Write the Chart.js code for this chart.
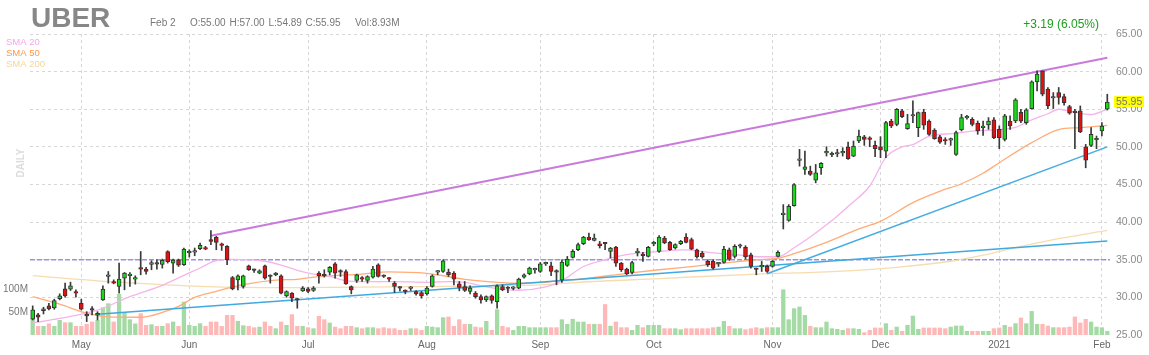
<!DOCTYPE html>
<html><head><meta charset="utf-8">
<script src="https://cdn.jsdelivr.net/npm/chart.js@4.4.1/dist/chart.umd.min.js"></script>
<style>html,body{margin:0;padding:0;background:#fff}#wrap{width:1149px;height:355px;position:relative}</style>
</head><body><div id="wrap"><canvas id="c"></canvas></div>
<script>
const ticker = 'UBER';
const holidays = ['2020-05-25','2020-07-03','2020-09-07','2020-11-26','2020-12-25','2021-01-01','2021-01-18'];
const firstDay = '2020-04-20', lastDay = '2021-02-02';
const monthTickLabels = ['May','Jun','Jul','Aug','Sep','Oct','Nov','Dec','2021','Feb'];
const priceMin = 25, priceMax = 65, priceStep = 5;
const volumeTicks = [50, 100];
const hLineLevel = 35;

const open = [
27.09,27.67,28.24,28.87,28.6,29.84,31.13,31.09,30.73,29.22,
27.6,28.35,27.62,29.67,32.78,32.11,31.44,32.56,32.9,32.42,
33.8,33.76,34.38,34.56,34.38,36.07,34.56,35.0,34.33,35.93,
36.02,36.47,36.45,37.67,37.98,36.95,36.78,32.64,32.33,31.44,
34.2,33.6,33.22,34.2,32.8,33.0,32.87,30.2,30.56,29.7,
30.87,31.13,30.91,33.22,32.9,33.36,34.47,33.4,33.44,31.44,
32.24,32.45,32.24,32.69,34.33,32.8,32.5,31.89,31.25,30.8,
31.2,30.78,30.64,30.47,31.44,33.35,33.44,33.36,33.22,31.8,
31.44,30.78,30.56,30.11,29.67,30.2,29.44,31.44,31.2,31.2,
31.22,32.69,33.13,33.65,33.44,34.45,34.2,33.4,32.3,34.24,
35.31,36.33,37.13,38.02,37.58,37.13,37.15,36.11,36.69,34.56,
33.76,33.31,35.95,35.7,35.44,37.09,36.11,37.89,37.31,36.56,
37.13,38.02,37.67,36.33,35.89,34.78,34.78,34.45,34.64,36.33,
35.44,36.8,36.64,35.67,33.75,34.05,34.11,34.11,35.44,41.0,
40.24,42.2,48.2,47.0,46.78,45.58,47.22,49.2,48.95,49.05,
49.2,50.02,48.78,50.78,51.35,51.02,50.2,50.02,49.44,53.44,
53.0,54.78,52.42,54.1,52.56,54.64,53.44,52.24,51.35,50.8,
50.9,49.0,52.24,53.85,53.67,53.13,52.55,52.91,53.58,52.33,
51.0,53.44,53.44,54.6,53.22,55.09,58.64,60.11,57.67,56.5,
57.22,56.69,55.36,54.6,54.78,50.02,50.2,50.95,52.11,55.0];
const high = [
28.87,27.89,28.69,29.22,29.76,30.47,31.89,32.02,31.0,29.76,
28.1,28.78,28.1,31.53,33.44,32.33,34.56,33.31,33.31,32.87,
36.1,33.98,34.87,35.0,35.09,36.2,35.09,35.09,36.56,36.33,
36.56,37.22,36.78,38.87,38.11,37.22,36.87,32.78,33.0,32.96,
34.29,33.76,33.67,34.29,33.0,33.31,33.0,30.87,30.64,29.89,
31.44,31.31,31.44,33.44,33.67,34.11,34.64,33.67,33.67,31.53,
33.09,32.78,32.87,34.11,34.47,33.0,32.64,32.11,31.44,31.0,
31.44,30.91,30.78,31.44,33.0,33.58,35.0,33.76,33.44,32.11,
32.11,31.53,30.78,30.33,30.2,30.33,31.67,31.67,31.44,31.44,
32.56,33.13,34.02,33.89,34.64,34.69,34.69,33.67,35.0,35.44,
36.33,37.22,38.11,38.56,38.42,37.44,37.31,36.64,36.78,34.64,
33.89,34.78,36.5,35.98,36.78,37.44,38.2,38.11,37.44,37.13,
37.58,38.47,37.89,36.42,36.11,35.0,35.0,34.64,36.78,36.56,
37.0,37.09,36.87,35.89,33.9,34.78,34.3,34.9,36.2,42.33,
42.33,45.13,49.67,49.44,47.44,47.67,47.9,50.02,49.31,49.67,
49.89,50.64,50.78,52.24,51.53,51.35,50.78,51.35,53.4,53.67,
55.1,55.0,54.33,56.11,54.64,55.0,53.58,52.42,51.53,51.22,
51.18,52.11,54.33,54.2,53.89,53.44,53.44,53.89,53.89,52.78,
54.33,54.11,56.42,55.0,55.09,58.78,60.11,60.11,57.89,57.22,
57.89,57.0,55.53,55.0,55.44,50.33,52.56,51.44,53.22,57.0];
const low = [
27.0,26.78,27.8,28.33,28.42,29.67,30.02,30.91,30.02,28.33,
26.78,27.67,27.0,29.58,31.89,31.8,30.56,31.0,31.44,31.76,
33.0,33.09,33.67,33.76,33.89,34.56,33.22,34.11,34.24,35.36,
35.53,36.33,36.33,37.0,36.33,36.24,34.33,31.0,31.0,31.22,
33.58,33.31,33.13,32.42,31.89,32.87,30.47,30.02,29.44,28.56,
30.78,30.64,30.78,31.89,32.69,33.0,32.56,32.78,31.71,30.47,
31.98,32.11,31.89,32.56,32.69,32.64,32.11,30.64,30.87,30.47,
30.91,30.29,29.89,30.29,31.36,33.0,33.31,32.78,31.67,30.87,
30.78,30.47,29.89,29.22,29.44,29.22,28.56,30.87,30.64,31.0,
31.13,32.56,33.0,33.22,33.31,34.24,32.87,31.67,32.0,34.11,
35.22,36.2,37.0,37.58,37.49,36.56,36.33,35.22,34.11,33.44,
33.0,33.13,35.5,34.78,35.36,36.87,35.98,37.13,36.24,36.42,
37.0,37.22,36.33,35.22,35.22,34.11,33.76,34.11,34.56,34.91,
35.22,36.56,35.09,33.89,33.0,33.44,33.3,34.0,35.36,39.09,
40.11,42.11,47.44,46.33,46.2,45.22,46.33,48.78,48.69,48.69,
48.78,48.33,48.69,50.56,50.2,50.02,48.69,48.56,48.56,52.56,
52.8,53.89,52.33,53.22,51.35,52.33,51.53,51.0,50.47,50.33,
50.2,48.87,52.11,53.67,52.78,51.67,51.53,52.33,51.09,49.76,
50.78,52.33,53.22,53.22,53.0,55.0,57.44,56.78,55.09,55.09,
55.67,55.53,54.33,49.76,51.89,47.22,50.02,49.76,51.44,54.89];
const close = [
28.33,27.36,28.47,28.47,29.58,30.2,30.2,31.53,30.56,28.42,
27.55,28.3,27.89,31.09,33.0,31.89,32.42,33.22,33.0,32.56,
33.76,33.44,34.64,34.42,34.91,34.73,34.96,34.29,36.42,36.0,
36.2,36.91,36.42,37.44,37.31,36.91,35.0,31.13,32.87,32.87,
33.67,33.58,33.53,32.56,32.78,33.22,30.56,30.78,29.89,29.65,
31.22,30.78,31.22,32.87,32.85,33.98,33.22,33.36,31.8,31.0,
33.0,32.42,32.78,33.76,32.78,32.78,32.42,31.44,31.22,30.78,
31.22,30.47,30.2,31.22,32.87,33.36,34.87,33.0,32.42,31.31,
30.91,31.22,30.11,29.67,30.11,29.58,31.53,31.0,31.18,31.22,
32.42,33.0,33.89,33.67,34.47,34.47,33.44,33.36,34.7,35.09,
36.11,37.0,38.02,37.67,37.89,36.87,37.13,36.56,34.56,33.67,
33.13,34.64,35.98,35.55,36.64,37.31,38.02,37.22,36.33,37.0,
37.44,37.31,36.42,35.36,35.36,34.33,33.89,34.47,36.42,35.09,
36.78,36.87,35.36,34.11,33.7,34.11,33.44,34.78,35.98,41.13,
42.11,45.0,48.24,47.36,46.33,46.56,47.8,49.22,48.96,49.13,
49.27,48.42,50.11,51.44,51.0,51.0,49.76,49.58,53.22,52.78,
55.0,54.02,53.09,54.11,54.56,52.87,51.67,51.09,50.64,50.78,
50.91,51.89,53.89,53.89,53.0,52.11,52.56,53.44,51.22,51.22,
54.11,52.78,56.24,53.4,54.91,58.64,59.67,57.0,55.44,56.56,
56.56,55.89,54.47,54.56,51.98,48.24,51.67,51.09,52.76,55.95];
// volume in millions of shares
const volume = [
35,19.6,19.6,25,19.6,32.6,27.5,27.5,19.6,19.6,
24,29,32.6,60,68.8,29,89,48.6,34,25,
47,21.7,23.2,19.6,19.6,25.4,29,19.6,72.5,21.7,
19.6,25.4,19.6,29,29,19.6,43.5,43.5,30.4,21,
19.6,16.7,18,29,19.6,14.5,29,21.7,45,19.6,
19.6,16.7,14.5,41.3,34,26.8,18,14.5,19.6,19.6,
16.7,14.5,16.7,16.7,14.5,16.7,14.5,14.5,10.9,10.9,
14.5,14.5,10.9,19.6,18.1,16.7,38.4,39.9,19.6,34,
23.9,23.9,18.1,16.7,30.4,10.9,55.8,19.6,16.7,10.9,
19.6,19.6,16.7,16.7,16.7,16.7,16.7,16.7,34,24,
35,29,29,24,24,24,67,20,29,16.7,
16.7,10.9,21.7,16.7,21.7,21.7,21.7,14.5,14.5,14.5,
12.3,14.5,14.5,14.5,14.5,14.5,16.7,18,30.4,19.6,
14.5,14.5,12.3,14.5,16.7,14.5,16.7,16.7,16.7,99,
34,58,61.6,43.5,19.6,16.7,16.7,29,14.5,13,
10.9,14.5,14.5,13,5.8,10.9,16,16,25.4,10.9,
18,8.7,21.7,42,13,16,16,16,16,14.5,
18,20.3,20.3,8.7,8.7,8.7,8.7,8.7,14.5,16,
21.7,18,25.4,37.7,25.4,52,24,24,20.3,16.7,
16.7,16.7,18,40,26.8,34.8,29,18,16.7,8.93];

// moving averages: [day index, value]
const sma20Points = [[0,26.6],[5,27.2],[12,28.3],[18,30.1],[24,31.6],[27,32.6],[31,33.9],[34,34.9],[37,35.05],[43,34.8],[46,34.3],[49,33.6],[52,33.1],[55,32.8],[58,32.2],[61,32.1],[67,32.1],[73,32.0],[77,32.1],[80,32.0],[84,31.4],[88,31.0],[90,30.95],[95,31.4],[98,32.2],[102,34.1],[106,35.0],[110,35.67],[116,36.1],[121,36.3],[126,35.9],[130,35.67],[135,35.4],[138,35.4],[141,36.6],[145,38.56],[148,40.2],[151,42.1],[155,44.8],[158,48.6],[161,50.0],[163,50.3],[166,51.4],[171,51.8],[174,52.1],[179,52.3],[182,52.6],[185,53.6],[188,54.4],[190,55.0],[193,54.6],[196,54.3],[199,55.0]];
const sma50Points = [[0,30.1],[5,29.1],[10,27.9],[14,27.4],[20,27.36],[24,28.0],[27,28.8],[30,30.0],[34,30.8],[36,31.2],[39,31.7],[45,32.3],[49,32.4],[52,32.7],[61,33.1],[66,33.4],[73,33.2],[80,32.4],[86,32.0],[89,31.9],[95,32.0],[98,32.3],[101,32.4],[110,33.2],[116,33.67],[122,34.1],[128,34.56],[134,35.0],[138,35.2],[141,35.8],[147,37.3],[153,39.1],[157,40.1],[163,42.6],[168,44.1],[172,45.1],[176,46.5],[179,47.9],[185,50.56],[190,52.3],[194,52.56],[199,52.87]];
const sma200Points = [[0,32.9],[12,32.2],[24,31.7],[34,31.4],[49,31.3],[66,31.4],[82,31.5],[95,31.7],[101,32.0],[116,32.5],[134,33.1],[147,33.4],[160,34.0],[170,34.8],[176,35.6],[182,36.6],[190,37.8],[199,38.9]];
// trend lines: [day index, price]
const upperTrend = [[33,38.2],[199,61.85]];
const lowerTrend = [[12,27.76],[199,37.5]];
const steepTrend = [[136,33.13],[199,50.0]];

function tradingDays(start, end, skip){
  const out=[]; let t=Date.parse(start+'T00:00:00Z'); const e=Date.parse(end+'T00:00:00Z');
  while(t<=e){ const d=new Date(t); const wd=d.getUTCDay(); const s=d.toISOString().slice(0,10);
    if(wd!==0 && wd!==6 && !skip.includes(s)) out.push(s); t+=86400000; }
  return out;
}
const days = tradingDays(firstDay, lastDay, holidays);
const N = days.length;
const monthStartIdx = [];
for(let i=1;i<N;i++){ if(days[i].slice(5,7)!==days[i-1].slice(5,7)) monthStartIdx.push(i); }

const isUp = close.map((c,i)=>c>=open[i]);
const wickData = high.map((h,i)=>[low[i],h]);
const bodyData = open.map((o,i)=>[Math.min(o,close[i]),Math.max(o,close[i])]);
function sparse(points){ const a=new Array(N).fill(null); points.forEach(([i,v])=>{a[i]=v;}); return a; }

const FONT = 'Arial, "Liberation Sans", sans-serif';
const monNames=['Jan','Feb','Mar','Apr','May','Jun','Jul','Aug','Sep','Oct','Nov','Dec'];

const deco = {
  id:'deco',
  beforeDatasetsDraw(chart){
    const {ctx, chartArea:a, scales:{y}} = chart;
    const py = y.getPixelForValue(hLineLevel);
    ctx.save();
    ctx.strokeStyle='rgba(140,130,220,0.85)'; ctx.lineWidth=1.4; ctx.setLineDash([5,2]);
    ctx.beginPath(); ctx.moveTo(a.left,py); ctx.lineTo(a.right,py); ctx.stroke();
    ctx.restore();
  },
  afterDraw(chart){
    const {ctx, chartArea:a, scales:{y}} = chart;
    const L = N-1;
    ctx.save();
    ctx.textAlign='left'; ctx.textBaseline='alphabetic';
    ctx.fillStyle='#878787'; ctx.font='bold 28px '+FONT;
    ctx.fillText(ticker, 31, 27);
    const d = days[L];
    const dl = monNames[parseInt(d.slice(5,7))-1]+' '+parseInt(d.slice(8,10));
    ctx.font='10px '+FONT; ctx.fillStyle='#777';
    ctx.fillText(dl, 150, 26);
    ctx.fillText('O:'+open[L].toFixed(2), 190, 26);
    ctx.fillText('H:'+high[L].toFixed(2), 229.5, 26);
    ctx.fillText('L:'+low[L].toFixed(2), 268.5, 26);
    ctx.fillText('C:'+close[L].toFixed(2), 305.5, 26);
    ctx.fillText('Vol:'+volume[L].toFixed(2)+'M', 355, 26);
    const ch = close[L]-close[L-1];
    ctx.font='12px '+FONT; ctx.fillStyle='#1e9e1e'; ctx.textAlign='right';
    ctx.fillText((ch>=0?'+':'')+ch.toFixed(2)+' ('+(ch/close[L-1]*100).toFixed(2)+'%)', 1099, 28);
    // legend
    ctx.textAlign='left'; ctx.font='9.5px '+FONT;
    ctx.fillStyle='#f6a6ea'; ctx.fillText('SMA 20', 6, 45);
    ctx.fillStyle='#ff9848'; ctx.fillText('SMA 50', 6, 56);
    ctx.fillStyle='#f3d59a'; ctx.fillText('SMA 200', 6, 67);
    // vertical label
    ctx.save(); ctx.translate(24, 163); ctx.rotate(-Math.PI/2);
    ctx.textAlign='center'; ctx.fillStyle='#dcdcdc'; ctx.font='bold 10px '+FONT;
    ctx.fillText('DAILY', 0, 0); ctx.restore();
    // last price tag
    const py = y.getPixelForValue(close[L]);
    ctx.fillStyle='#ffff00'; ctx.fillRect(a.right+4, py-6, 30, 11);
    ctx.fillStyle='#777'; ctx.font='10.5px '+FONT; ctx.textAlign='left'; ctx.textBaseline='middle';
    ctx.fillText(close[L].toFixed(2), a.right+6, py);
    ctx.restore();
  }
};

new Chart(document.getElementById('c'), {
  type:'bar',
  data:{ labels: days, datasets:[
    {type:'bar', label:'Volume', data:volume, yAxisID:'yv', backgroundColor:isUp.map(u=>u?'#a4daa4':'#ffb8b8'), barPercentage:0.8, categoryPercentage:1, grouped:false, order:10},
    {type:'line', label:'SMA 200', data:sparse(sma200Points), yAxisID:'y', borderColor:'#f6dcaf', borderWidth:1.3, pointRadius:0, spanGaps:true, cubicInterpolationMode:'monotone', order:9},
    {type:'line', label:'SMA 50', data:sparse(sma50Points), yAxisID:'y', borderColor:'#ffac78', borderWidth:1.3, pointRadius:0, spanGaps:true, cubicInterpolationMode:'monotone', order:8},
    {type:'line', label:'SMA 20', data:sparse(sma20Points), yAxisID:'y', borderColor:'#f5b4ec', borderWidth:1.3, pointRadius:0, spanGaps:true, cubicInterpolationMode:'monotone', order:7},
    {type:'line', label:'Upper', data:sparse(upperTrend), yAxisID:'y', borderColor:'#c97bdc', borderWidth:2, pointRadius:0, spanGaps:true, order:6},
    {type:'line', label:'Lower', data:sparse(lowerTrend), yAxisID:'y', borderColor:'#3fa9e0', borderWidth:1.6, pointRadius:0, spanGaps:true, order:6},
    {type:'line', label:'Steep', data:sparse(steepTrend), yAxisID:'y', borderColor:'#45ade2', borderWidth:1.6, pointRadius:0, spanGaps:true, order:6},
    {type:'bar', label:'Wick', data:wickData, yAxisID:'y', backgroundColor:'#3a3a3a', barThickness:1, grouped:false, order:2},
    {type:'bar', label:'Body', data:bodyData, yAxisID:'y', backgroundColor:isUp.map(u=>u?'#18d818':'#e21010'), borderColor:'#333', borderWidth:1, borderSkipped:false, barThickness:4, minBarLength:1.5, grouped:false, order:1}
  ]},
  options:{
    responsive:true, maintainAspectRatio:false, animation:false,
    layout:{padding:{top:34,left:0,right:0,bottom:0}},
    plugins:{legend:{display:false}, tooltip:{enabled:false}},
    scales:{
      x:{ type:'category', offset:true,
        grid:{offset:false, color:'#d6d6d6', drawTicks:false},
        border:{display:false, dash:[3,3]},
        afterBuildTicks:(s)=>{ s.ticks = monthStartIdx.map(i=>({value:i})); },
        afterFit:(s)=>{ s.height=20; },
        ticks:{ autoSkip:false, maxRotation:0, padding:4, color:'#666', font:{family:FONT, size:10},
          callback:(v)=>{ const k=monthStartIdx.indexOf(v); return k>=0?monthTickLabels[k]:''; } } },
      y:{ position:'right', min:priceMin, max:priceMax,
        grid:{drawTicks:false, color:(c)=>c.tick && c.tick.value===priceMin?'rgba(0,0,0,0)':'#d6d6d6'},
        border:{display:false, dash:[3,3]},
        afterFit:(s)=>{ s.width=39; },
        ticks:{ stepSize:priceStep, padding:6, color:'#8a8a8a', font:{family:FONT, size:10.5},
          callback:(v)=>Number(v).toFixed(2) } },
      yv:{ position:'left', min:0, max:654,
        grid:{display:false, drawTicks:false}, border:{display:false},
        afterBuildTicks:(s)=>{ s.ticks = volumeTicks.map(v=>({value:v})); },
        afterFit:(s)=>{ s.width=30; },
        ticks:{ padding:2, color:'#777', font:{family:FONT, size:10}, callback:(v)=>v+'M' } }
    }
  },
  plugins:[deco]
});
</script></body></html>
